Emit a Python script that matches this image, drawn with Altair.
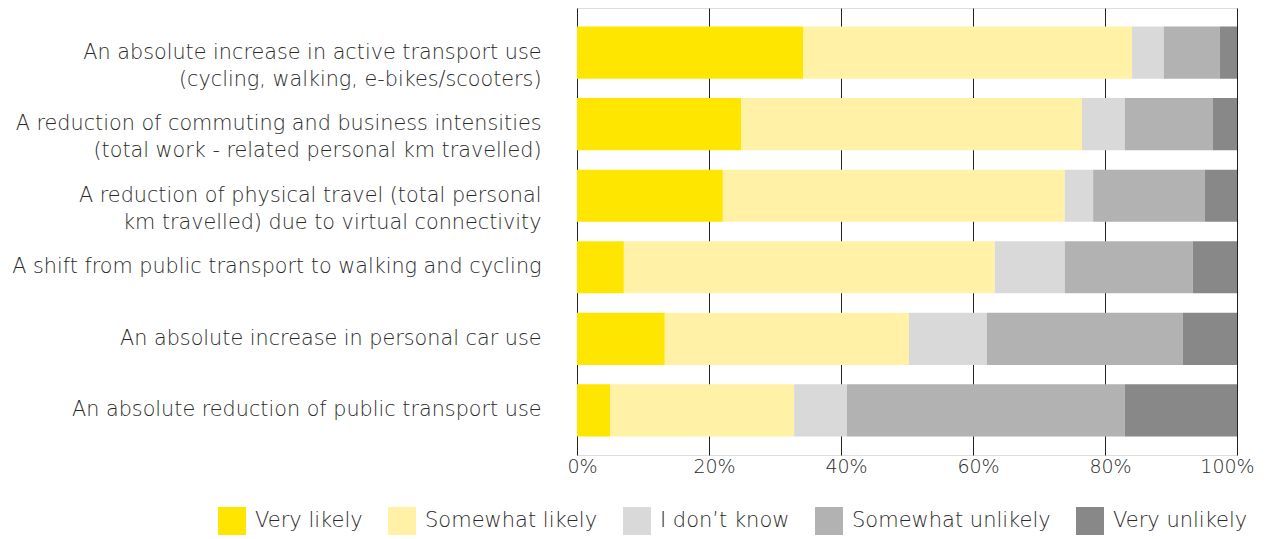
import altair as alt
import pandas as pd

categories = [
    "An absolute increase in active transport use|(cycling, walking, e-bikes/scooters)",
    "A reduction of commuting and business intensities|(total work - related personal km travelled)",
    "A reduction of physical travel (total personal|km travelled) due to virtual connectivity",
    "A shift from public transport to walking and cycling",
    "An absolute increase in personal car use",
    "An absolute reduction of public transport use",
]
responses = ["Very likely", "Somewhat likely", "I don\u2019t know", "Somewhat unlikely", "Very unlikely"]
very_likely = [34.3, 24.9, 22.1, 7.1, 13.3, 5.0]
somewhat_likely = [49.8, 51.6, 51.8, 56.2, 37.0, 27.9]
dont_know = [4.8, 6.5, 4.3, 10.6, 11.8, 8.0]
somewhat_unlikely = [8.5, 13.3, 16.9, 19.4, 29.7, 42.1]
very_unlikely = [2.6, 3.7, 4.9, 6.7, 8.2, 17.0]
colors = ["#FFE600", "#FFF1A6", "#D9D9D9", "#B2B2B2", "#888888"]

series = [very_likely, somewhat_likely, dont_know, somewhat_unlikely, very_unlikely]
rows = []
for ri, resp in enumerate(responses):
    for ci, cat in enumerate(categories):
        rows.append({"category": cat, "response": resp, "value": series[ri][ci] / 100.0, "order": ri})
df = pd.DataFrame(rows)

FONT = "DejaVu Sans"
TXT = "#2a2a2a"

chart = alt.Chart(df).mark_bar().encode(
    y=alt.Y("category:N", sort=categories,
            scale=alt.Scale(paddingInner=0.27, paddingOuter=0.26),
            axis=alt.Axis(title=None, labelExpr="split(datum.label, '|')", labelFontSize=20.75,
                          labelFont=FONT, labelFontWeight=200, labelColor=TXT,
                          labelPadding=36, labelLineHeight=27, ticks=False, domain=False,
                          labelLimit=700)),
    x=alt.X("value:Q", stack="zero",
            scale=alt.Scale(domain=[0, 1], nice=False),
            axis=alt.Axis(title=None, format="%", values=[0, 0.2, 0.4, 0.6, 0.8, 1.0],
                          labelFontSize=19, labelFont=FONT, labelFontWeight=200,
                          labelColor=TXT, grid=True, gridColor="#222222", gridWidth=1,
                          gridOpacity=1, ticks=False, domain=False, labelPadding=2,
                          labelFlush=False,
                          labelOffset={"condition": {"test": "datum.value == 1", "value": -10},
                                       "value": 5})),
    color=alt.Color("response:N", sort=responses,
                    scale=alt.Scale(domain=responses, range=colors),
                    legend=alt.Legend(title=None, orient="none", direction="horizontal",
                                      legendX=-359, legendY=499,
                                      symbolType="square", symbolSize=784, symbolStrokeWidth=0,
                                      symbolOpacity=1, labelLimit=400,
                                      labelFontSize=21, labelFont=FONT, labelFontWeight=200,
                                      labelColor=TXT, columnPadding=25, labelOffset=9)),
    order=alt.Order("order:Q"),
).properties(width=660, height=447).configure_view(stroke=None).configure(
    padding={"left": 3, "top": 0, "right": 5, "bottom": 0})

chart.save("out.html", embed_options={"renderer": "svg", "actions": False})
